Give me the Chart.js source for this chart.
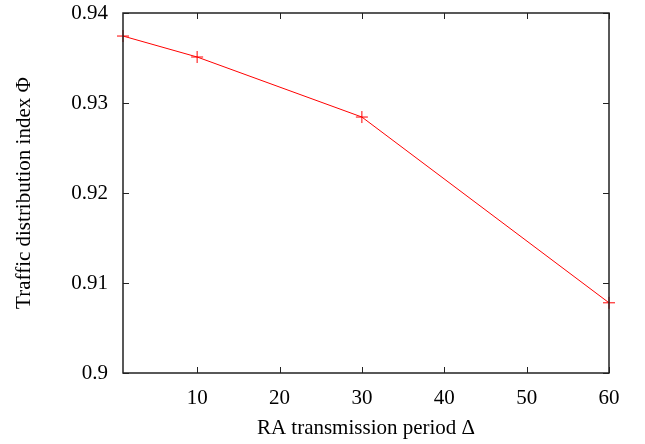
<!DOCTYPE html>
<html lang="en">
  <head>
    <meta charset="UTF-8" />
    <script src="https://cdn.jsdelivr.net/npm/chart.js"></script>
    <title>RA transmission period</title>
    <style>
      * {
        padding: 0;
        margin: 0;
        box-sizing: border-box;
      }
      body {
        background-color: #fff;
      }
      .chart-box {
        width: 645px;
        height: 444px;
      }
    </style>
  </head>
  <body>
    <div class="chart-box">
      <canvas id="myChart"></canvas>
    </div>
    <script>
      // data
      const periods = [1, 10, 30, 60];
      const phiValues = [0.93744, 0.93511, 0.92844, 0.9078];
      const xTicks = [10, 20, 30, 40, 50, 60];
      const yTicks = [0.9, 0.91, 0.92, 0.93, 0.94];
      const yTickLabels = ['0.9', '0.91', '0.92', '0.93', '0.94'];

      const font = { family: 'Liberation Serif', size: 21 };

      // gnuplot-like frame with inward ticks on all four sides
      const framePlugin = {
        id: 'frame',
        afterDatasetsDraw(chart) {
          const ctx = chart.ctx;
          const a = chart.chartArea;
          const xs = chart.scales.x;
          const ys = chart.scales.y;
          const len = 6;
          ctx.save();
          ctx.strokeStyle = '#222';
          ctx.lineWidth = 1;
          ctx.beginPath();
          xTicks.forEach((t) => {
            const px = Math.round(xs.getPixelForValue(t)) + 0.5;
            ctx.moveTo(px, a.bottom);
            ctx.lineTo(px, a.bottom - len);
            ctx.moveTo(px, a.top);
            ctx.lineTo(px, a.top + len);
          });
          yTicks.forEach((t) => {
            const py = Math.round(ys.getPixelForValue(t)) + 0.5;
            ctx.moveTo(a.left, py);
            ctx.lineTo(a.left + len, py);
            ctx.moveTo(a.right, py);
            ctx.lineTo(a.right - len, py);
          });
          ctx.stroke();
          ctx.lineWidth = 1.5;
          ctx.strokeRect(a.left, a.top, a.right - a.left, a.bottom - a.top);
          ctx.restore();
        },
      };

      const config = {
        type: 'line',
        data: {
          labels: periods,
          datasets: [
            {
              data: periods.map((p, i) => ({ x: p, y: phiValues[i] })),
              borderColor: '#ff0000',
              borderWidth: 1,
              pointStyle: 'cross',
              pointRadius: 6,
              pointBorderWidth: 1,
              pointBorderColor: '#ff0000',
              fill: false,
              tension: 0,
              clip: false,
            },
          ],
        },
        options: {
          responsive: true,
          maintainAspectRatio: false,
          animation: false,
          events: [],
          layout: { padding: { top: 13, right: 36, left: 0, bottom: 0 } },
          plugins: {
            legend: { display: false },
            tooltip: { enabled: false },
          },
          scales: {
            x: {
              type: 'linear',
              min: 1,
              max: 60,
              afterBuildTicks: (s) => {
                s.ticks = xTicks.map((v) => ({ value: v }));
              },
              afterFit: (s) => {
                s.height = 71;
                s.paddingLeft = 0;
                s.paddingRight = 0;
              },
              grid: { display: false },
              border: { display: false },
              ticks: { color: '#000', font: font, padding: 5, maxRotation: 0 },
              title: {
                display: true,
                text: 'RA transmission period Δ',
                color: '#000',
                font: font,
                padding: { top: 0, bottom: 3 },
              },
            },
            y: {
              type: 'linear',
              min: 0.9,
              max: 0.94,
              afterBuildTicks: (s) => {
                s.ticks = yTicks.map((v) => ({ value: v }));
              },
              afterFit: (s) => {
                s.width = 123;
                s.paddingTop = 0;
                s.paddingBottom = 0;
              },
              grid: { display: false },
              border: { display: false },
              ticks: {
                color: '#000',
                font: font,
                padding: 7,
                callback: (v) => yTickLabels[yTicks.indexOf(v)],
              },
              title: {
                display: true,
                text: 'Traffic distribution index Φ',
                color: '#000',
                font: font,
                padding: { top: 12, bottom: 0 },
              },
            },
          },
        },
        plugins: [framePlugin],
      };

      const myChart = new Chart(document.getElementById('myChart'), config);
    </script>
  </body>
</html>
